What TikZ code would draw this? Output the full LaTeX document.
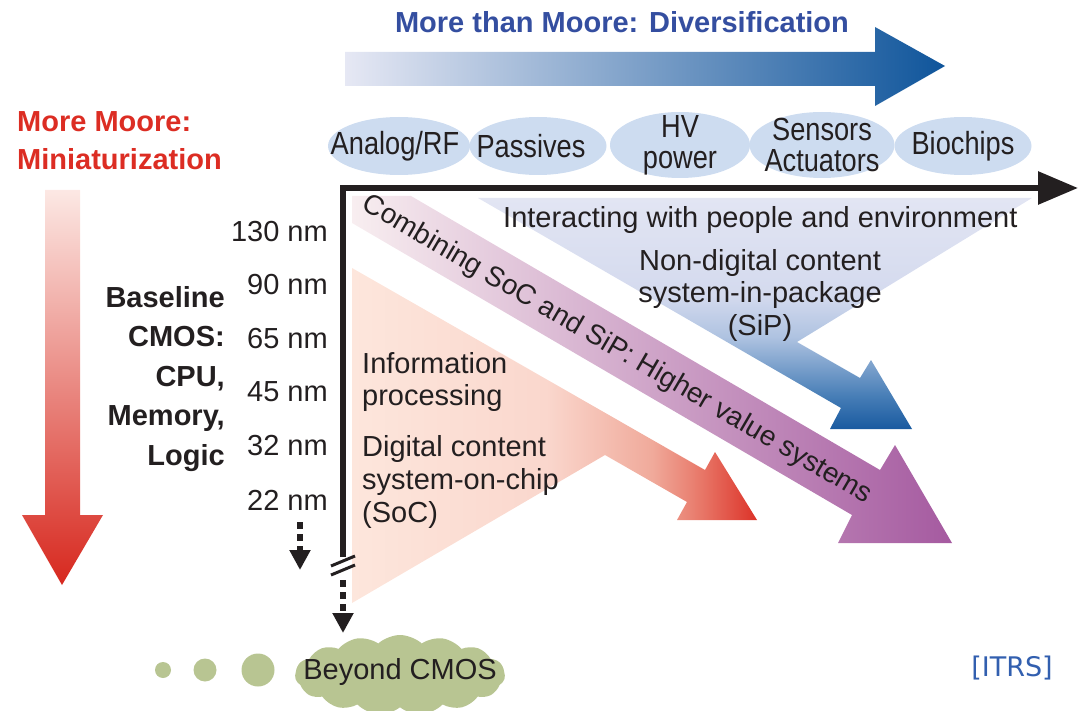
\documentclass[tikz,border=0pt]{standalone}
\usepackage{fontspec}
\setmainfont{Liberation Sans}
\newfontfamily\condfont[FakeStretch=0.85]{Liberation Sans}
\newfontfamily\srcfont{DejaVu Sans}
\usetikzlibrary{arrows.meta,shapes.geometric,shapes.symbols}

\definecolor{inkgray}{RGB}{35,31,32}
\definecolor{moorered}{RGB}{220,45,35}
\definecolor{mooreblue}{RGB}{52,78,160}
\definecolor{padblue}{RGB}{205,220,240}
\definecolor{cloudgreen}{RGB}{184,197,146}
\definecolor{itrsblue}{RGB}{50,95,175}

% colour stops of the funnels
\definecolor{socpale}{RGB}{253,230,220}
\definecolor{socsoft}{RGB}{250,215,205}
\definecolor{socwarm}{RGB}{240,170,155}
\definecolor{socdeep}{RGB}{232,120,105}
\definecolor{socred}{RGB}{220,50,40}
\definecolor{sippale}{RGB}{226,229,243}
\definecolor{siplite}{RGB}{212,218,238}
\definecolor{sipsoft}{RGB}{175,195,225}
\definecolor{sipmid}{RGB}{70,125,182}
\definecolor{sipdeep}{RGB}{25,90,160}
\pgfdeclarehorizontalshading{socfade}{100bp}{color(0bp)=(socpale); color(25bp)=(socpale);
    color(49bp)=(socsoft); color(62bp)=(socwarm); color(68bp)=(socdeep); color(75bp)=(socred); color(100bp)=(socred)}
\pgfdeclareverticalshading{sipfade}{100bp}{color(0bp)=(sipdeep); color(25bp)=(sipdeep);
    color(32bp)=(sipmid); color(45bp)=(sipsoft); color(54bp)=(siplite); color(75bp)=(sippale); color(100bp)=(sippale)}

\begin{document}
\begin{tikzpicture}[x=1pt, y=-1pt,
    lbl/.style={font=\fontsize{29}{33}\selectfont, inner sep=0pt, text=inkgray},
    padtext/.style={font=\condfont\fontsize{32}{31}\selectfont, inner sep=0pt, text=inkgray, align=center},
    pad/.style={ellipse, fill=padblue, inner sep=0pt},
    dotarrow/.style={line width=6pt, dash pattern=on 7pt off 5pt, draw=inkgray,
        -{Triangle[length=20pt,width=20pt]}}]
    \useasboundingbox (0,0) rectangle (1084,711);

    % big gradient arrows
    \shade[left color={rgb,255:red,230;green,232;blue,244}, middle color={rgb,255:red,140;green,170;blue,205},
        right color={rgb,255:red,15;green,85;blue,155}]
        (345,52) -- (875,52) -- (875,27) -- (945,66) -- (875,106) -- (875,86) -- (345,86) -- cycle;
    \shade[top color={rgb,255:red,252;green,232;blue,228}, middle color={rgb,255:red,238;green,150;blue,138},
        bottom color={rgb,255:red,215;green,40;blue,30}]
        (45,190) -- (80,190) -- (80,515) -- (103,515) -- (62,585) -- (22,515) -- (45,515) -- cycle;

    % funnels into the diagonal arrows
    \shade[shading=sipfade]
        (478,198) -- (1032,198) -- (797,342) -- (860,378) -- (871,360) -- (912,429) -- (830,429) -- (841,408) -- cycle;
    \shade[shading=socfade]
        (352,268) -- (705,470) -- (715,452) -- (757,520) -- (677,520) -- (687,502) -- (605,455) -- (352,603) -- cycle;
    \shade[left color={rgb,255:red,248;green,238;blue,240}, middle color={rgb,255:red,218;green,180;blue,210},
        right color={rgb,255:red,165;green,90;blue,160}]
        (352,196) -- (411,196) -- (880,470) -- (895,445) -- (952,543) -- (838,543) -- (852,515) -- (352,223) -- cycle;

    % headings
    \node[lbl, font=\bfseries\fontsize{29}{34}\selectfont, text=mooreblue] (diverse) at (622,22) {More than Moore: Diversification};
    \node[lbl, font=\bfseries\fontsize{29}{38}\selectfont, text=moorered, align=left, anchor=west] (miniat) at (17,141) {More Moore:\\Miniaturization};

    % diversification pads
    \node[pad, minimum width=142pt, minimum height=58pt] (analog) at (399,146) {};
    \node[pad, minimum width=137pt, minimum height=58pt] (passive) at (538,146) {};
    \node[pad, minimum width=140pt, minimum height=66pt] (hvpower) at (680,145) {};
    \node[pad, minimum width=145pt, minimum height=66pt] (sensors) at (822,145) {};
    \node[pad, minimum width=137pt, minimum height=58pt] (biochip) at (963,146) {};
    \node[padtext] (analogtxt) at (395,146) {Analog/RF};
    \node[padtext] (passivetxt) at (531,146) {Passives};
    \node[padtext] (hvpowertxt) at (hvpower) {HV\\power};
    \node[padtext] (sensorstxt) at (sensors) {Sensors\\Actuators};
    \node[padtext] (biochiptxt) at (biochip) {Biochips};

    % axes
    \coordinate (origin) at (343,188);
    \coordinate (xend) at (1078,188);
    \coordinate (ybreak) at (343,557);
    \coordinate (ydash) at (343,580);
    \draw[line width=6pt, draw=inkgray, line join=miter, -{Triangle[length=40pt,width=32pt]}] (ybreak) -- (origin) -- (xend);
    \draw[line width=3pt, draw=inkgray] (331,566) -- (355,556);
    \draw[line width=3pt, draw=inkgray] (331,575) -- (355,565);

    % technology nodes
    \node[lbl, anchor=east] (nm130) at (328,232) {130 nm};
    \node[lbl, anchor=east] (nm90) at (328,285) {90 nm};
    \node[lbl, anchor=east] (nm65) at (328,339) {65 nm};
    \node[lbl, anchor=east] (nm45) at (328,392) {45 nm};
    \node[lbl, anchor=east] (nm32) at (328,446) {32 nm};
    \node[lbl, anchor=east] (nm22) at (328,500) {22 nm};
    \node[lbl, font=\bfseries\fontsize{29}{39.5}\selectfont, align=right, anchor=east] (baseline) at (225,379)
        {Baseline\\CMOS:\\CPU,\\Memory,\\Logic};
    \coordinate (nextstep) at (300,522);
    \coordinate (nextstepend) at (300,570);
    \draw[dotarrow] (nextstep) -- (nextstepend);

    % texts inside the funnels
    \node[lbl, anchor=west] (interact) at (503,220) {Interacting with people and environment};
    \node[lbl, font=\fontsize{29}{32.5}\selectfont, align=center] (sip) at (760,295) {Non-digital content\\system-in-package\\(SiP)};
    \node[lbl, font=\fontsize{29}{32}\selectfont, align=left, anchor=west] (info) at (362,382) {Information\\processing};
    \node[lbl, font=\fontsize{29}{33}\selectfont, align=left, anchor=west] (soc) at (362,482) {Digital content\\system-on-chip\\(SoC)};
    \node[lbl, font=\fontsize{28}{32}\selectfont, rotate=-30.3] (combine) at (617,350) {Combining SoC and SiP: Higher value systems};

    % beyond CMOS
    \node[cloud, cloud puffs=15, cloud puff arc=85, cloud ignores aspect, fill=cloudgreen, inner sep=0pt,
        minimum width=210pt, minimum height=80pt] (beyond) at (400,675) {};
    \node[lbl] (beyondtxt) at (400,672) {Beyond CMOS};
    \node[circle, fill=cloudgreen, minimum size=16pt, inner sep=0pt] (puffa) at (163,670) {};
    \node[circle, fill=cloudgreen, minimum size=23pt, inner sep=0pt] (puffb) at (205,670) {};
    \node[circle, fill=cloudgreen, minimum size=33pt, inner sep=0pt] (puffc) at (258,670) {};
    \coordinate (beyondtop) at (343,633);
    \draw[dotarrow] (ydash) -- (beyondtop);

    \node[lbl, font=\srcfont\fontsize{27}{31}\selectfont, text=itrsblue] (itrs) at (1012,668) {[ITRS]};
\end{tikzpicture}
\end{document}
